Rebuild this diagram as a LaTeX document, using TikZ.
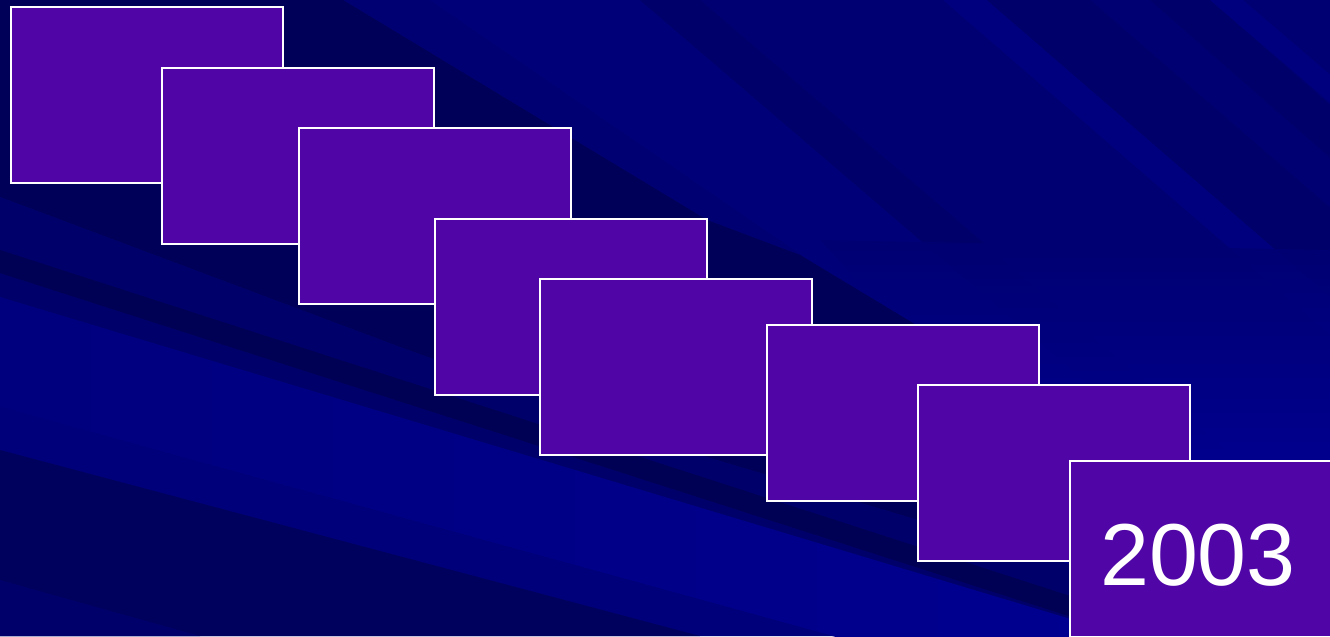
\documentclass[tikz,border=0pt]{standalone}
\usepackage{fontspec}
\setmainfont{Liberation Sans}
\definecolor{bgbase}{RGB}{0,0,114}
\definecolor{bgdark}{RGB}{0,0,88}
\definecolor{bgdarker}{RGB}{0,0,84}
\definecolor{bgmid}{RGB}{0,0,106}
\definecolor{bglight}{RGB}{0,0,126}
\definecolor{bgbright}{RGB}{0,0,148}
\definecolor{cardfill}{RGB}{80,6,166}
\tikzset{
  card/.style={draw=white, line width=1.5pt, fill=cardfill, anchor=north west,
    minimum width=204pt, minimum height=132pt, inner sep=0pt, outer sep=0pt},
  yeartext/.style={text=white, font=\fontsize{66}{70}\selectfont, inner sep=0pt}
}
\begin{document}
\begin{tikzpicture}[x=0.75pt,y=-0.75pt]
\useasboundingbox (0,0) rectangle (1330,636);
\clip (0,0) rectangle (1330,636);
% background base
\fill[bgbase] (0,0) rectangle (1330,636);
% top-right streaks
\fill[bglight] (943,0) -- (987,0) -- (1796,700) -- (1752,700) -- cycle;
\fill[bgmid] (987,0) -- (1090,0) -- (1899,700) -- (1796,700) -- cycle;
\fill[bgmid] (1150,0) -- (1210,0) -- (2010,700) -- (1950,700) -- cycle;
\fill[bglight] (1210,0) -- (1243,0) -- (2060,700) -- (2027,700) -- cycle;
\fill[bglight!50!bgbase] (430,0) -- (640,0) -- (1457,700) -- (1450,700) -- cycle;
\fill[bgmid] (640,0) -- (700,0) -- (1517,700) -- (1457,700) -- cycle;
% right side lighter area
\shade[top color=bgbase, bottom color=bgbright, fill opacity=0.9]
  (820,240) -- (1330,250) -- (1330,480) -- (1040,480) -- cycle;
\fill[bgbright, fill opacity=0.9] (1040,480) -- (1330,480) -- (1330,636) -- (1040,636) -- cycle;
% dark wedge top-left
\fill[bgdark] (0,0) -- (343,0) -- (707,220) -- (800,255) -- (913,323) -- (1040,390)
  -- (1191,470) -- (1330,560) -- (1330,636) -- (918,520) -- (700,455) -- (400,347)
  -- (0,197) -- cycle;
% mid region above bright band
\fill[bgmid] (0,197) -- (400,347) -- (700,455) -- (918,520) -- (1330,640)
  -- (1330,700) -- (0,297) -- cycle;
\fill[bgdarker] (0,250) -- (1330,680) -- (1330,700) -- (0,273) -- cycle;
% bright band
\shade[left color=bglight, right color=bgbright] (0,297) -- (1330,697) -- (1330,773) -- (0,407) -- cycle;
% below bright band
\fill[bglight!70!bgbase] (0,407) -- (833,636) -- (0,636) -- cycle;
\fill[bgdark!80!bgbase] (0,450) -- (700,636) -- (0,636) -- cycle;
\fill[bgmid] (0,580) -- (200,636) -- (0,636) -- cycle;
% cards
\node[card] (c1) at (11,7) {};
\node[card] (c2) at (162,68) {};
\node[card] (c3) at (299,128) {};
\node[card] (c4) at (435,219) {};
\node[card] (c5) at (540,279) {};
\node[card] (c6) at (767,325) {};
\node[card] (c7) at (918,385) {};
\node[card] (c8) at (1070,461) {};
\node[yeartext] (year) at (1198,555) {2003};
\end{tikzpicture}
\end{document}
